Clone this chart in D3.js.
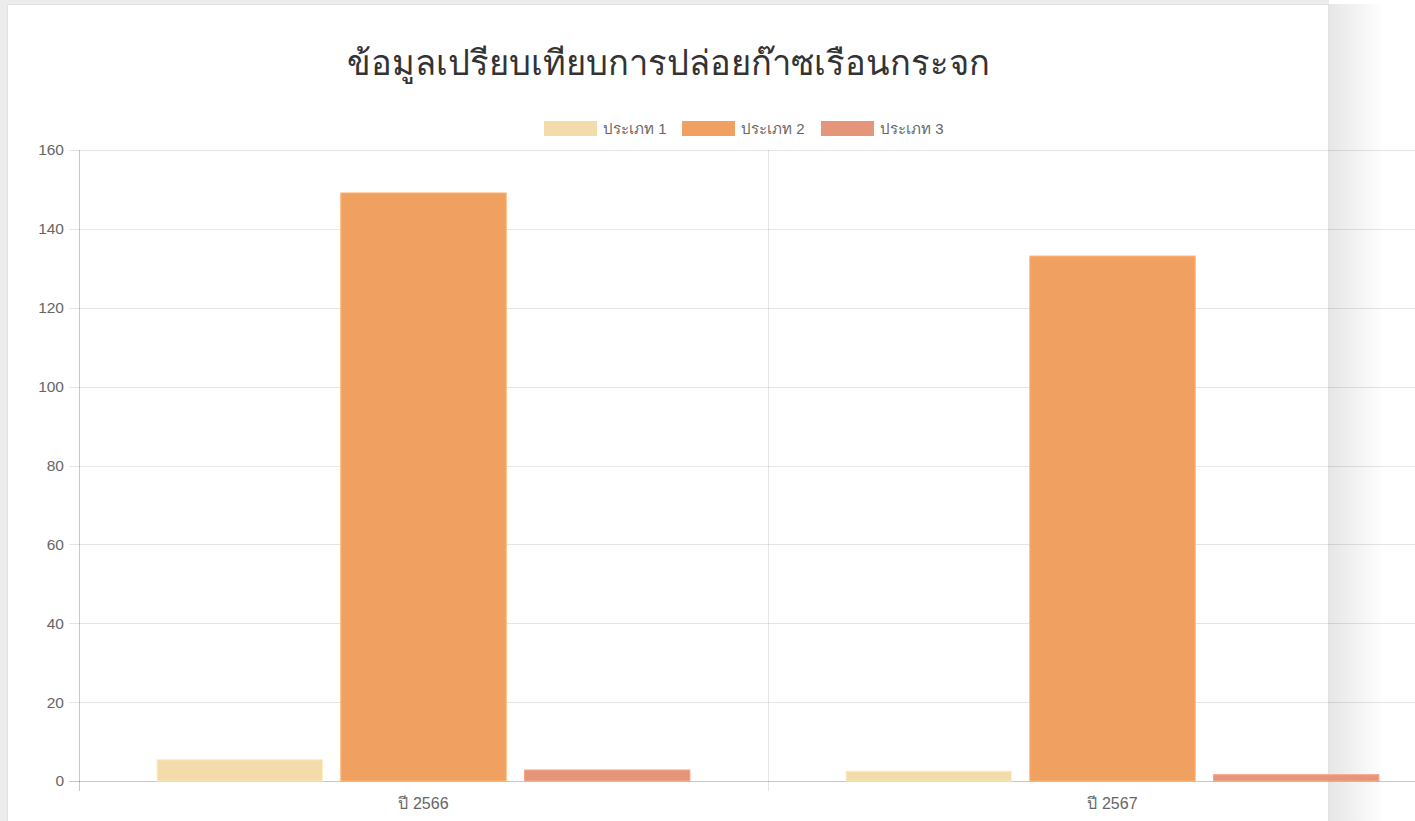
<!DOCTYPE html>
<html>
<head>
<meta charset="utf-8">
<script src="https://cdn.jsdelivr.net/npm/d3@7"></script>
<style>
  html, body { margin: 0; padding: 0; background: #fff; overflow: hidden; }
  svg { display: block; }
</style>
</head>
<body>
<svg id="chart" width="1415" height="821"></svg>
<script>
var title = 'ข้อมูลเปรียบเทียบการปล่อยก๊าซเรือนกระจก';
var years = ['ปี 2566', 'ปี 2567'];
var seriesNames = ['ประเภท 1', 'ประเภท 2', 'ประเภท 3'];
var seriesColors = ['#f4dbab', '#f0a162', '#e5957a'];
var type1 = [5.4, 2.5];
var type2 = [149.1, 133.1];
var type3 = [2.8, 1.6];
var yTicks = [0, 20, 40, 60, 80, 100, 120, 140, 160];

var svg = d3.select('#chart');
var labelFont = '"Liberation Sans", Arial, sans-serif';

// page background + card with a soft shadow on the right
var defs = svg.append('defs');
var grad = defs.append('linearGradient').attr('id', 'shadow');
grad.append('stop').attr('offset', '0%').attr('stop-color', '#e6e6e6');
grad.append('stop').attr('offset', '100%').attr('stop-color', '#ffffff');

svg.append('rect').attr('width', 1415).attr('height', 821).attr('fill', '#fff');
svg.append('rect').attr('x', 0).attr('y', 0).attr('width', 1329).attr('height', 821).attr('fill', '#ececec');
svg.append('rect').attr('x', 1329).attr('y', 4).attr('width', 55).attr('height', 817).attr('fill', 'url(#shadow)');
svg.append('rect').attr('x', 7.5).attr('y', 4.5).attr('width', 1321).attr('height', 820)
  .attr('fill', '#fff').attr('stroke', '#e2e2e2');

// title
svg.append('text')
  .attr('x', 668).attr('y', 75)
  .attr('text-anchor', 'middle')
  .style('font-family', '"Noto Sans", sans-serif')
  .style('font-size', '34.5px')
  .style('fill', '#333')
  .text(title);

// legend
var legendItems = seriesNames.map((n, i) => ({ name: n, color: seriesColors[i] }));
var legendX = [544, 682, 821];
var legend = svg.append('g');
legend.selectAll('rect').data(legendItems).enter().append('rect')
  .attr('x', (d, i) => legendX[i]).attr('y', 121)
  .attr('width', 53).attr('height', 15)
  .attr('fill', d => d.color);
legend.selectAll('text').data(legendItems).enter().append('text')
  .attr('x', (d, i) => legendX[i] + 59).attr('y', 134)
  .style('font-family', labelFont)
  .style('font-size', '15px').style('fill', '#666')
  .text(d => d.name);

// scales (category slot 80%, bar 90% of its sub-slot)
var x0 = d3.scaleBand().domain(years).range([79, 1457]);
var x1 = d3.scaleBand().domain(seriesNames)
  .range([x0.bandwidth() * 0.1, x0.bandwidth() * 0.9])
  .paddingInner(0.1).paddingOuter(0.05);
var y = d3.scaleLinear().domain([0, 160]).range([781, 150]);

// horizontal grid
svg.append('g').selectAll('line').data(yTicks).enter().append('line')
  .attr('x1', 69).attr('x2', 1415)
  .attr('y1', d => Math.round(y(d)) + 0.5).attr('y2', d => Math.round(y(d)) + 0.5)
  .attr('stroke', d => d === 0 ? 'rgba(0,0,0,0.22)' : 'rgba(0,0,0,0.1)');

// vertical grid (category boundaries)
var vLines = [x0(years[0]), x0(years[1])];
svg.append('g').selectAll('line').data(vLines).enter().append('line')
  .attr('x1', d => Math.round(d) + 0.5).attr('x2', d => Math.round(d) + 0.5)
  .attr('y1', 150).attr('y2', 791)
  .attr('stroke', (d, i) => i === 0 ? 'rgba(0,0,0,0.22)' : 'rgba(0,0,0,0.1)');

// y axis labels
var yAxis = svg.append('g').attr('transform', 'translate(68,0)')
  .call(d3.axisLeft(y).tickValues(yTicks).tickSize(0).tickPadding(4));
yAxis.select('.domain').remove();
yAxis.selectAll('text')
  .style('font-family', labelFont)
  .style('font-size', '15.5px').style('fill', '#666');

// x axis labels
var xAxis = svg.append('g').attr('transform', 'translate(0,791)')
  .call(d3.axisBottom(x0).tickSize(0).tickPadding(7));
xAxis.select('.domain').remove();
xAxis.selectAll('text')
  .style('font-family', labelFont)
  .style('font-size', '16px').style('fill', '#666');

// bars
var rows = years.map((yr, i) => ({ year: yr, values: [type1[i], type2[i], type3[i]] }));
var groups = svg.append('g').selectAll('g').data(rows).enter().append('g')
  .attr('transform', d => 'translate(' + x0(d.year) + ',0)');
groups.selectAll('rect')
  .data(d => d.values.map((v, i) => ({ name: seriesNames[i], value: v, color: seriesColors[i] })))
  .enter().append('rect')
  .attr('x', d => x1(d.name))
  .attr('width', x1.bandwidth())
  .attr('y', d => y(d.value))
  .attr('height', d => y(0) - y(d.value))
  .attr('fill', d => d.color)
  .attr('stroke', d => d3.color(d.color).brighter(0.25))
  .attr('stroke-width', 1);
</script>
</body>
</html>
